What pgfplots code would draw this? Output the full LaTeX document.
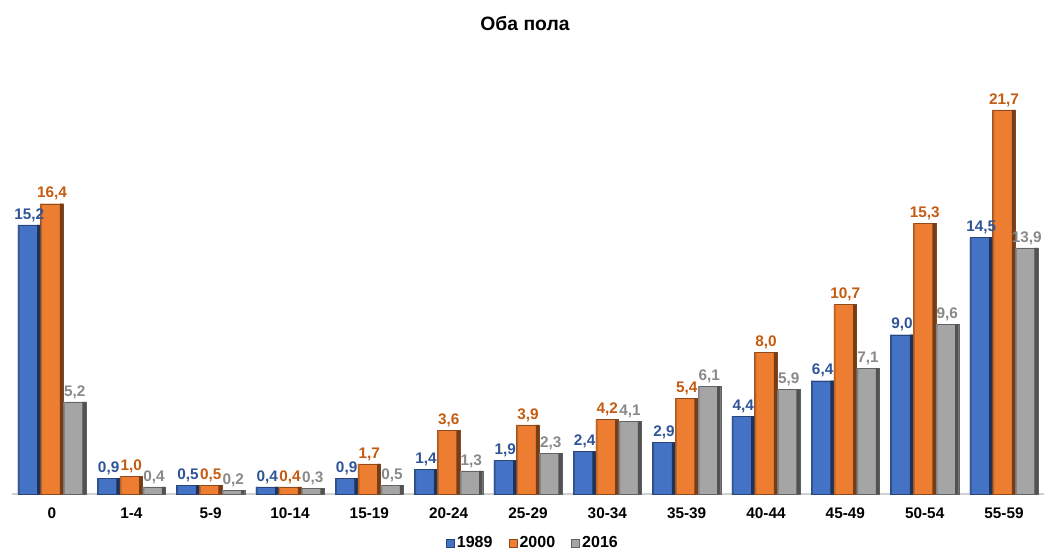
\documentclass[border=0pt]{standalone}
\usepackage{fontspec}
\setmainfont{Liberation Sans}
\usepackage{pgfplots}
\usepackage{pgfplotstable}
\pgfplotsset{compat=1.18}
\definecolor{cb}{HTML}{4472C4}
\definecolor{co}{HTML}{ED7D31}
\definecolor{cg}{HTML}{A5A5A5}
\definecolor{lb}{HTML}{2F5597}
\definecolor{lo}{HTML}{C55A11}
\definecolor{lg}{HTML}{898989}
\pgfplotstableread{
x  a    b    c
0  15.2 16.4 5.2
1  0.9  1.0  0.4
2  0.5  0.5  0.2
3  0.4  0.4  0.3
4  0.9  1.7  0.5
5  1.4  3.6  1.3
6  1.9  3.9  2.3
7  2.4  4.2  4.1
8  2.9  5.4  6.1
9  4.4  8.0  5.9
10 6.4  10.7 7.1
11 9.0  15.3 9.6
12 14.5 21.7 13.9
}\data
\begin{document}
\begin{tikzpicture}
\useasboundingbox (-9.25pt,-45pt) rectangle (777.5pt,370.5pt);
\begin{axis}[
  at={(0pt,0pt)}, anchor=south west,
  scale only axis, width=773.5pt, height=305.3pt,
  xmin=-0.5, xmax=12.5, ymin=0, ymax=23,
  ybar, bar width=0.286,
  axis y line=none,
  axis x line*=bottom,
  x axis line style={draw=black!18, line width=0.8pt, -},
  xtick={0,...,12},
  xticklabels={0,1-4,5-9,10-14,15-19,20-24,25-29,30-34,35-39,40-44,45-49,50-54,55-59},
  major tick length=0pt,
  xticklabel style={font=\bfseries\fontsize{11.5}{13}\selectfont, yshift=-7pt},
  /pgf/number format/assume math mode=true,
  nodes near coords style={font=\bfseries\fontsize{11.5}{13}\selectfont, inner sep=2.5pt},
  clip=false,
  area legend,
  legend image code/.code={\fill[#1] (0pt,-3pt) rectangle (6pt,3pt);},
  legend style={at={(0.505,-0.093)}, anchor=north, draw=none, legend columns=3,
    font=\bfseries\fontsize{12}{14}\selectfont, inner sep=1pt,
    /tikz/every even column/.append style={column sep=10pt}},
  vlab/.style={nodes near coords={\pgfmathprintnumber[fixed,fixed zerofill,precision=1,use comma,assume math mode=true]{\pgfplotspointmeta}},
    every node near coord/.append style={text=#1}},
]
\addplot[fill=cb, draw=cb!60!black, line width=0.3pt, bar shift=-0.286, vlab=lb] table[x=x,y=a]{\data};
\addplot[fill=co, draw=co!60!black, line width=0.3pt, bar shift=0, vlab=lo] table[x=x,y=b]{\data};
\addplot[fill=cg, draw=cg!60!black, line width=0.3pt, bar shift=0.286, vlab=lg] table[x=x,y=c]{\data};
% darker right edges of the bars
\addplot[forget plot, fill=cb!45!black, draw=none, bar width=0.045, bar shift=-0.1655] table[x=x,y=a]{\data};
\addplot[forget plot, fill=co!50!black, draw=none, bar width=0.045, bar shift=0.1205] table[x=x,y=b]{\data};
\addplot[forget plot, fill=cg!50!black, draw=none, bar width=0.045, bar shift=0.4065] table[x=x,y=c]{\data};
% slightly darker left edges
\addplot[forget plot, fill=cb!75!black, draw=none, bar width=0.02, bar shift=-0.419] table[x=x,y=a]{\data};
\addplot[forget plot, fill=co!80!black, draw=none, bar width=0.02, bar shift=-0.133] table[x=x,y=b]{\data};
\addplot[forget plot, fill=cg!80!black, draw=none, bar width=0.02, bar shift=0.153] table[x=x,y=c]{\data};
\legend{1989,2000,2016}
\end{axis}
\node[font=\bfseries\fontsize{14.5}{16}\selectfont] at (384.5pt,352.5pt) {Оба пола};
\end{tikzpicture}
\end{document}
